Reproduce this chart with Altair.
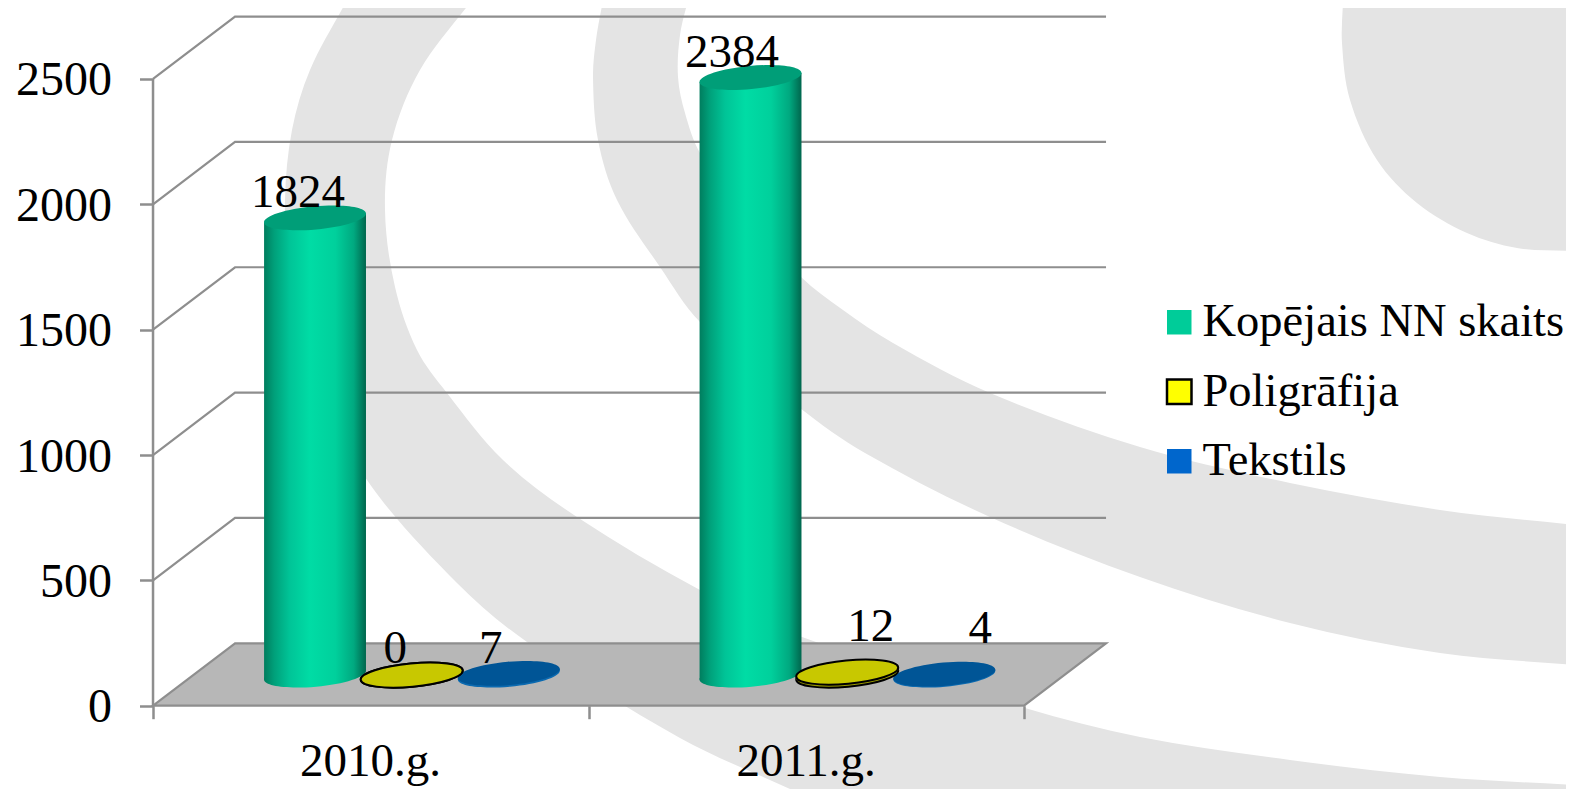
import math
import altair as alt
import pandas as pd

# ---- chart values ----
years = ["2010.g.", "2011.g."]
series = ["Kopējais NN skaits", "Poligrāfija", "Tekstils"]
kopejais = [1824, 2384]
poligrafija = [0, 12]
tekstils = [7, 4]
y_ticks = [0, 500, 1000, 1500, 2000, 2500]
legend_colors = ["#00CC99", "#FFFF00", "#0066CC"]
legend_strokes = ["transparent", "#000000", "transparent"]

# ---- 3-D construction, in data units ----
X_DOM = [-0.3330, 3.2445]
Y_DOM = [-332.3, 2783.2]
DEPTH_X = 0.1883
DEPTH_Y = 249
BASE = 122
HALF = 0.117
TILT = 18
slots = {"Kopējais NN skaits": 0.372, "Poligrāfija": 0.594, "Tekstils": 0.817}
FONT = "Liberation Serif"
FS = 47
GREY = "#8e8e8e"
SWIRL = "#E4E4E4"

xs = alt.Scale(domain=X_DOM, nice=False, zero=False)
ys = alt.Scale(domain=Y_DOM, nice=False, zero=False)

year_labels = "datum.value == 0 ? '%s' : datum.value == 1 ? '%s' : ''" % tuple(years)
x_axis = alt.Axis(
    values=[0, 1, 2], offset=-83.3, zindex=1, domain=False, grid=False, title=None,
    tickColor=GREY, tickWidth=2.5, tickSize=13, labelFont=FONT, labelFontSize=FS,
    labelColor="#000000", labelExpr=year_labels, labelOffset=217, labelPadding=20,
    labelBaseline="top", labelAlign="center", labelOverlap=False, labelFlush=False, labelBound=False,
)
y_axis = alt.Axis(
    values=y_ticks, offset=-145.5, zindex=1, domain=False, grid=False, title=None,
    tickColor=GREY, tickWidth=2.5, tickSize=14, labelFont=FONT, labelFontSize=48,
    labelColor="#000000", labelPadding=28, format="d", labelOverlap=False, labelBound=False,
    labelOffset=2,
)


def X(f):
    return alt.X(f, type="quantitative", scale=xs, axis=x_axis)


def Y(f):
    return alt.Y(f, type="quantitative", scale=ys, axis=y_axis)


# ---- shape helpers ----
def ellipse_path(a=1.0, b=0.2266, deg=-5.3):
    k = 0.5523
    t = math.radians(deg)
    c, s = math.cos(t), math.sin(t)

    def r(x, y):
        return f"{x*c-y*s:.4f},{x*s+y*c:.4f}"

    return (
        f"M{r(-a,0)}C{r(-a,-k*b)} {r(-k*a,-b)} {r(0,-b)}"
        f"C{r(k*a,-b)} {r(a,-k*b)} {r(a,0)}"
        f"C{r(a,k*b)} {r(k*a,b)} {r(0,b)}"
        f"C{r(-k*a,b)} {r(-a,k*b)} {r(-a,0)}Z"
    )


ELLIPSE = ellipse_path()
ELLIPSE_SIZE = 102.4 ** 2


def smooth(points, start):
    pts = [(x - 8, y - 8) for x, y in points]
    n = len(pts)

    def tangent(i):
        a = pts[max(i - 1, 0)]
        b = pts[min(i + 1, n - 1)]
        dx, dy = b[0] - a[0], b[1] - a[1]
        d = math.hypot(dx, dy)
        return dx / d, dy / d

    out = (f"M{pts[0][0]},{pts[0][1]}" if start else f"L{pts[0][0]},{pts[0][1]}")
    for i in range(n - 1):
        p1, p2 = pts[i], pts[i + 1]
        d = math.hypot(p2[0] - p1[0], p2[1] - p1[1]) / 3
        t1, t2 = tangent(i), tangent(i + 1)
        out += (
            f"C{p1[0]+t1[0]*d:.1f},{p1[1]+t1[1]*d:.1f} "
            f"{p2[0]-t2[0]*d:.1f},{p2[1]-t2[1]*d:.1f} {p2[0]:.1f},{p2[1]:.1f}"
        )
    return out


blob = smooth([(1343, 0), (1342, 43), (1350, 100), (1377, 160), (1417, 203), (1467, 233), (1517, 248), (1574, 251)], True) + "L1566,-8Z"
band_b = (
    smooth([(603, 0), (596, 40), (593, 77), (598, 140), (617, 200), (660, 267), (700, 322), (800, 408), (865, 453), (990, 517), (1140, 577), (1290, 623), (1440, 653), (1574, 665)], True)
    + smooth([(1574, 525), (1440, 510), (1290, 483), (1140, 447), (990, 393), (893, 343), (843, 310), (801, 277), (745, 215), (700, 153), (685, 113), (678, 77), (680, 35), (688, 0)], False)
    + "Z"
)
band_a = (
    smooth([(347, 0), (310, 70), (292, 130), (285, 200), (289, 270), (310, 370), (367, 480), (457, 583), (527, 642), (680, 738), (790, 789)], True)
    + "L1574,789"
    + smooth([(1574, 785), (1440, 777), (1290, 760), (1140, 737), (1025, 708), (802, 637), (700, 590), (577, 517), (503, 460), (447, 393), (417, 350), (395, 287), (385, 210), (392, 140), (420, 70), (472, 0)], False)
    + "Z"
)
dummy = pd.DataFrame({"k": [0]})
layers = []
for p in (blob, band_b, band_a):
    layers.append(
        alt.Chart(dummy)
        .mark_point(shape=p, size=4, filled=True, fill=SWIRL, opacity=1, strokeWidth=0)
        .encode(x=alt.value(0), y=alt.value(0))
    )

# ---- wall grid lines ----
grid_rows = []
for v in y_ticks[1:]:
    grid_rows += [
        {"tick": v, "o": 0, "x": 0, "y": v},
        {"tick": v, "o": 1, "x": DEPTH_X, "y": v + DEPTH_Y},
        {"tick": v, "o": 2, "x": 2 + DEPTH_X, "y": v + DEPTH_Y},
    ]
layers.append(
    alt.Chart(pd.DataFrame(grid_rows))
    .mark_line(color=GREY, strokeWidth=2.2, interpolate="linear")
    .encode(x=X("x"), y=Y("y"), detail="tick:N", order="o:Q")
)

# ---- value axis line ----
layers.append(
    alt.Chart(pd.DataFrame({"x": [0], "y": [0], "y2": [y_ticks[-1]]}))
    .mark_rule(color=GREY, strokeWidth=2.5)
    .encode(x=X("x"), y=Y("y"), y2="y2")
)

# ---- floor ----
floor = pd.DataFrame({"y": [0, DEPTH_Y], "x": [0, DEPTH_X], "x2": [2, 2 + DEPTH_X]})
layers.append(
    alt.Chart(floor)
    .mark_area(orient="horizontal", color="#B7B7B7", stroke=GREY, strokeWidth=2.2, opacity=1)
    .encode(y=Y("y"), x=X("x"), x2="x2")
)

# ---- table of bars ----
values = {"Kopējais NN skaits": kopejais, "Poligrāfija": poligrafija, "Tekstils": tekstils}
rows = []
for s in series:
    for i, v in enumerate(values[s]):
        rows.append({"series": s, "year": years[i], "value": v, "cx": i + slots[s], "top": BASE + v, "base": BASE})
table = pd.DataFrame(rows)

legend = alt.Legend(
    title=None, orient="none", legendX=1148, legendY=291, symbolType="square",
    symbolSize=600, symbolStrokeWidth=2.5, labelFont=FONT, labelFontSize=46.5,
    labelColor="#000000", rowPadding=22.5, labelOffset=0, labelLimit=500, padding=0,
)
# legend-bearing points, hidden beneath the cylinders
layers.append(
    alt.Chart(table)
    .mark_point(shape="square", filled=True, size=1, opacity=1)
    .encode(
        x=X("cx"),
        y=Y("top"),
        fill=alt.Fill("series:N", scale=alt.Scale(domain=series, range=legend_colors), legend=legend),
        stroke=alt.Stroke("series:N", scale=alt.Scale(domain=series, range=legend_strokes), legend=legend),
        strokeWidth=alt.value(2.5),
    )
)


def grad(stops):
    return alt.Gradient(
        gradient="linear", x1=0, x2=1, y1=0, y2=0,
        stops=[alt.GradientStop(offset=o, color=c) for o, c in stops],
    )


looks = {
    "Kopējais NN skaits": dict(
        side=[(0, "#007D5E"), (0.1, "#00A07A"), (0.25, "#00C497"), (0.45, "#00DCA5"), (0.7, "#00D09C"), (0.88, "#00A980"), (1, "#00664D")],
        top="#009E78", stroke=None,
    ),
    "Poligrāfija": dict(side=[(0, "#8C8C00"), (1, "#A8A800")], top="#C8C800", stroke="#000000"),
    "Tekstils": dict(side=[(0, "#0B6AB0"), (1, "#0B6AB0")], top="#005596", stroke=None),
}

# ---- cylinders: drawn so that yellow sits above blue and green ----
for s in ["Kopējais NN skaits", "Tekstils", "Poligrāfija"]:
    sub = table[table.series == s]
    lk = looks[s]
    extra = dict(stroke=lk["stroke"], strokeWidth=2) if lk["stroke"] else dict(strokeWidth=0)
    side_rows = []
    for _, r in sub.iterrows():
        side_rows += [
            {"year": r.year, "x": r.cx - HALF, "y": r.top - TILT, "y2": r.base - TILT},
            {"year": r.year, "x": r.cx + HALF, "y": r.top + TILT, "y2": r.base + TILT},
        ]
    layers.append(
        alt.Chart(sub)
        .mark_point(shape=ELLIPSE, size=ELLIPSE_SIZE, filled=True, fill=grad(lk["side"]), opacity=1, **extra)
        .encode(x=X("cx"), y=Y("base"))
    )
    layers.append(
        alt.Chart(pd.DataFrame(side_rows))
        .mark_area(fill=grad(lk["side"]), opacity=1, interpolate="linear")
        .encode(x=X("x"), y=Y("y"), y2="y2", detail="year:N")
    )
    layers.append(
        alt.Chart(sub)
        .mark_point(shape=ELLIPSE, size=ELLIPSE_SIZE, filled=True, fill=lk["top"], opacity=1, **extra)
        .encode(x=X("cx"), y=Y("top"))
    )

# ---- value labels, each nudged to where the original places it ----
nudges = {
    ("Kopējais NN skaits", years[0]): (-17, -11),
    ("Kopējais NN skaits", years[1]): (-18.5, -10.4),
    ("Poligrāfija", years[0]): (-16.5, -12),
    ("Poligrāfija", years[1]): (23.5, -31),
    ("Tekstils", years[0]): (-18, -10),
    ("Tekstils", years[1]): (36, -31),
}
for (s, yr), (dx, dy) in nudges.items():
    sub = table[(table.series == s) & (table.year == yr)]
    layers.append(
        alt.Chart(sub)
        .mark_text(font=FONT, fontSize=FS, color="#000000", baseline="alphabetic", align="center", dx=dx, dy=dy)
        .encode(x=X("cx"), y=Y("top"), text="value:Q")
    )

chart = (
    alt.layer(*layers)
    .properties(width=1558, height=781, padding=0, autosize=alt.AutoSizeParams(type="none"), background="#FFFFFF")
    .configure_view(stroke=None)
)
chart.save("out.html", embed_options={"renderer": "svg", "actions": False})
